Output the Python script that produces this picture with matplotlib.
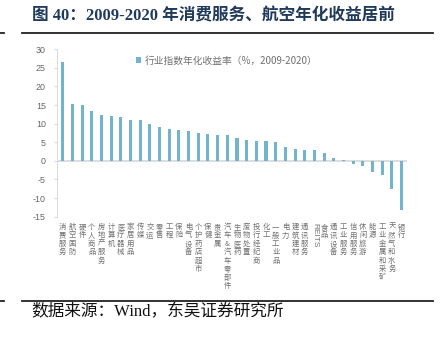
import matplotlib.pyplot as plt
import numpy as np

plt.rcParams['font.family'] = ['Noto Sans CJK SC', 'DejaVu Sans']

industries = ['消费服务', '航空/国防', '硬件', '个人商品', '房地产服务', '计算机', '医疗器械',
              '家居用品', '传媒', '交运', '零售', '工程', '保险', '电气设备', '个护/药店/超市',
              '保健', '贵金属', '汽车&汽车零部件', '生物医药', '废物处置', '投行/经纪商', '化工',
              '一般工业品', '电力', '建筑建材', '通讯服务', 'REITS', '食品', '通讯设备',
              '工业服务', '信用服务', '休闲旅游', '能源', '工业金属和采矿', '天然气和水务', '银行']
returns = [26.7, 15.4, 15.0, 13.4, 12.3, 12.0, 11.9, 11.1, 11.0, 10.0, 9.0, 8.6, 8.2, 8.0,
           7.4, 7.3, 7.0, 7.0, 6.1, 5.6, 5.4, 5.4, 5.2, 3.8, 3.3, 3.0, 3.0, 2.1, 0.8, 0.2,
           -0.9, -1.4, -3.0, -3.9, -7.5, -13.2]
yticks = [30, 25, 20, 15, 10, 5, 0, -5, -10, -15]
series_name = '行业指数年化收益率（%，2009-2020）'

title = '图 40：2009-2020 年消费服务、航空年化收益居前'
source = '数据来源：Wind，东吴证券研究所'


def vertical(s):
    # stack characters top to bottom, drop the slash separators
    if s.isascii():
        return s
    return '\n'.join(ch for ch in s if ch != '/')


fig = plt.figure(figsize=(4.41, 3.39), dpi=100)
ax = fig.add_axes([0.1293, 0.3608, 0.7927, 0.4938])

x = np.arange(len(industries))
ax.bar(x, returns, width=0.32, color='#72B3CD', label=series_name, zorder=2)

ax.set_ylim(-15, 30)
ax.set_xlim(-0.59, len(industries) - 0.48)
ax.set_yticks(yticks)
ax.set_yticklabels([str(v) for v in yticks], fontsize=6.4, color='#666666',
                   family=['Liberation Sans', 'DejaVu Sans'])
ax.tick_params(axis='y', length=2, width=0.6, color='#D0D0D0', pad=6)
ax.axhline(0, color='#DADADA', lw=1.3, zorder=1)

ax.set_xticks(x)
ax.set_xticklabels([vertical(s) for s in industries], fontsize=5.3, color='#707070',
                   linespacing=1.08, va='top')
ax.tick_params(axis='x', length=0, pad=4.5)
for lab, name in zip(ax.get_xticklabels(), industries):
    if name.isascii():
        lab.set_rotation(-90)
        lab.set_fontsize(6)
        lab.set_family(['Liberation Sans', 'DejaVu Sans'])

for side in ['top', 'right', 'bottom']:
    ax.spines[side].set_visible(False)
ax.spines['left'].set_color('#D9D9D9')
ax.spines['left'].set_linewidth(0.7)

leg = ax.legend(loc='upper left', bbox_to_anchor=(0.215, 0.985), frameon=False,
                fontsize=7, handlelength=0.55, handleheight=0.55, handletextpad=0.3,
                borderaxespad=0)
for t in leg.get_texts():
    t.set_color('#707070')

fig.text(0.072, 0.951, title, fontsize=12, weight='bold', color='#203A5C',
         family=['Liberation Serif', 'Noto Sans CJK SC'], va='center')
fig.add_artist(plt.Line2D([0.05, 0.982], [0.902, 0.902], color='#222222', lw=1.3))
fig.add_artist(plt.Line2D([0.0, 0.008], [0.902, 0.902], color='#222222', lw=1.3))
fig.add_artist(plt.Line2D([0.05, 0.982], [0.112, 0.112], color='#222222', lw=1.3))
fig.add_artist(plt.Line2D([0.0, 0.008], [0.112, 0.112], color='#222222', lw=1.3))
fig.text(0.072, 0.078, source, fontsize=12, color='#111111',
         family=['Liberation Serif', 'Noto Sans CJK SC'], va='center')

fig.savefig('out.png', dpi=100)
